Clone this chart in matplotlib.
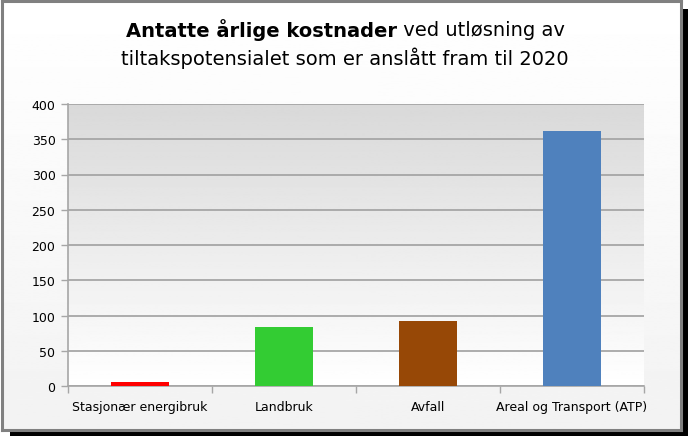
import matplotlib
matplotlib.use("Agg")
import matplotlib.pyplot as plt
import numpy as np
from matplotlib.patches import Rectangle

categories = ["Stasjonær energibruk", "Landbruk", "Avfall", "Areal og Transport (ATP)"]
values = [5, 84, 92, 361]
colors = ["#ff0000", "#33cc33", "#974806", "#4f81bd"]
yticks = [0, 50, 100, 150, 200, 250, 300, 350, 400]
title_bold = "Antatte årlige kostnader"
title_rest = " ved utløsning av"
title_line2 = "tiltakspotensialet som er anslått fram til 2020"

W, H = 690, 439
plt.rcParams['font.family'] = ['DejaVu Sans']
fig = plt.figure(figsize=(W / 100, H / 100), dpi=100)
fig.patch.set_facecolor("white")

def fx(x):
    return x / W

def fy(y):
    return 1 - y / H

# background box with shadow
shadow = Rectangle((fx(10), fy(437)), fx(688) - fx(10), fy(10) - fy(437),
                   transform=fig.transFigure, facecolor="black", edgecolor="none", zorder=0)
fig.patches.append(shadow)
bg_ax = fig.add_axes([fx(2), fy(431), fx(681) - fx(2), fy(2) - fy(431)], zorder=0.5)
grad = np.linspace(1.0, 0.95, 256).reshape(-1, 1)
bg_ax.imshow(grad, cmap="gray", vmin=0, vmax=1, aspect="auto", extent=[0, 1, 0, 1], origin="upper")
bg_ax.set_xlim(0, 1)
bg_ax.set_ylim(0, 1)
bg_ax.set_xticks([])
bg_ax.set_yticks([])
for s in bg_ax.spines.values():
    s.set_color("#808080")
    s.set_linewidth(2.2)

# main axes
ax = fig.add_axes([fx(68), fy(387), fx(644) - fx(68), fy(105) - fy(387)], zorder=1)
ax.set_facecolor("none")
x = np.arange(len(categories))
ax.set_xlim(-0.5, len(categories) - 0.5)
ax.set_ylim(0, 400)
pg = np.linspace(0.85, 1.0, 256).reshape(-1, 1)
ax.imshow(pg, cmap="gray", vmin=0, vmax=1, aspect="auto",
          extent=[-0.5, len(categories) - 0.5, 0, 400], origin="upper", zorder=0)
ax.set_yticks(yticks)
ax.yaxis.grid(True, color="#a6a6a6", linewidth=1.3, zorder=1)
ax.set_axisbelow(True)
ax.bar(x, values, width=0.4, color=colors, zorder=3)

ax.set_xticks(x)
ax.set_xticklabels(categories, fontsize=9)
ax.set_xticks(np.arange(-0.5, len(categories), 1.0), minor=True)
ax.tick_params(axis="x", which="major", length=0, pad=10)
ax.tick_params(axis="x", which="minor", length=5, color="#a6a6a6", width=1)
ax.tick_params(axis="y", length=5, color="#a6a6a6", width=1, labelsize=9, pad=4)
for s in ["top", "right"]:
    ax.spines[s].set_visible(False)
for s in ["left", "bottom"]:
    ax.spines[s].set_color("#a6a6a6")
    ax.spines[s].set_linewidth(1.2)

# title
fig.canvas.draw()
r = fig.canvas.get_renderer()
t1 = fig.text(0, fy(30), title_bold, fontsize=14, fontweight="bold", va="center", ha="left")
t2 = fig.text(0, fy(30), title_rest, fontsize=14, va="center", ha="left")
w1 = t1.get_window_extent(r).width
w2 = t2.get_window_extent(r).width
start = (W / 2 - (w1 + w2) / 2)
t1.set_x(start / W)
t2.set_x((start + w1) / W)
fig.text(0.5, fy(58), title_line2, fontsize=14, va="center", ha="center")

fig.savefig("out.png", dpi=100)
